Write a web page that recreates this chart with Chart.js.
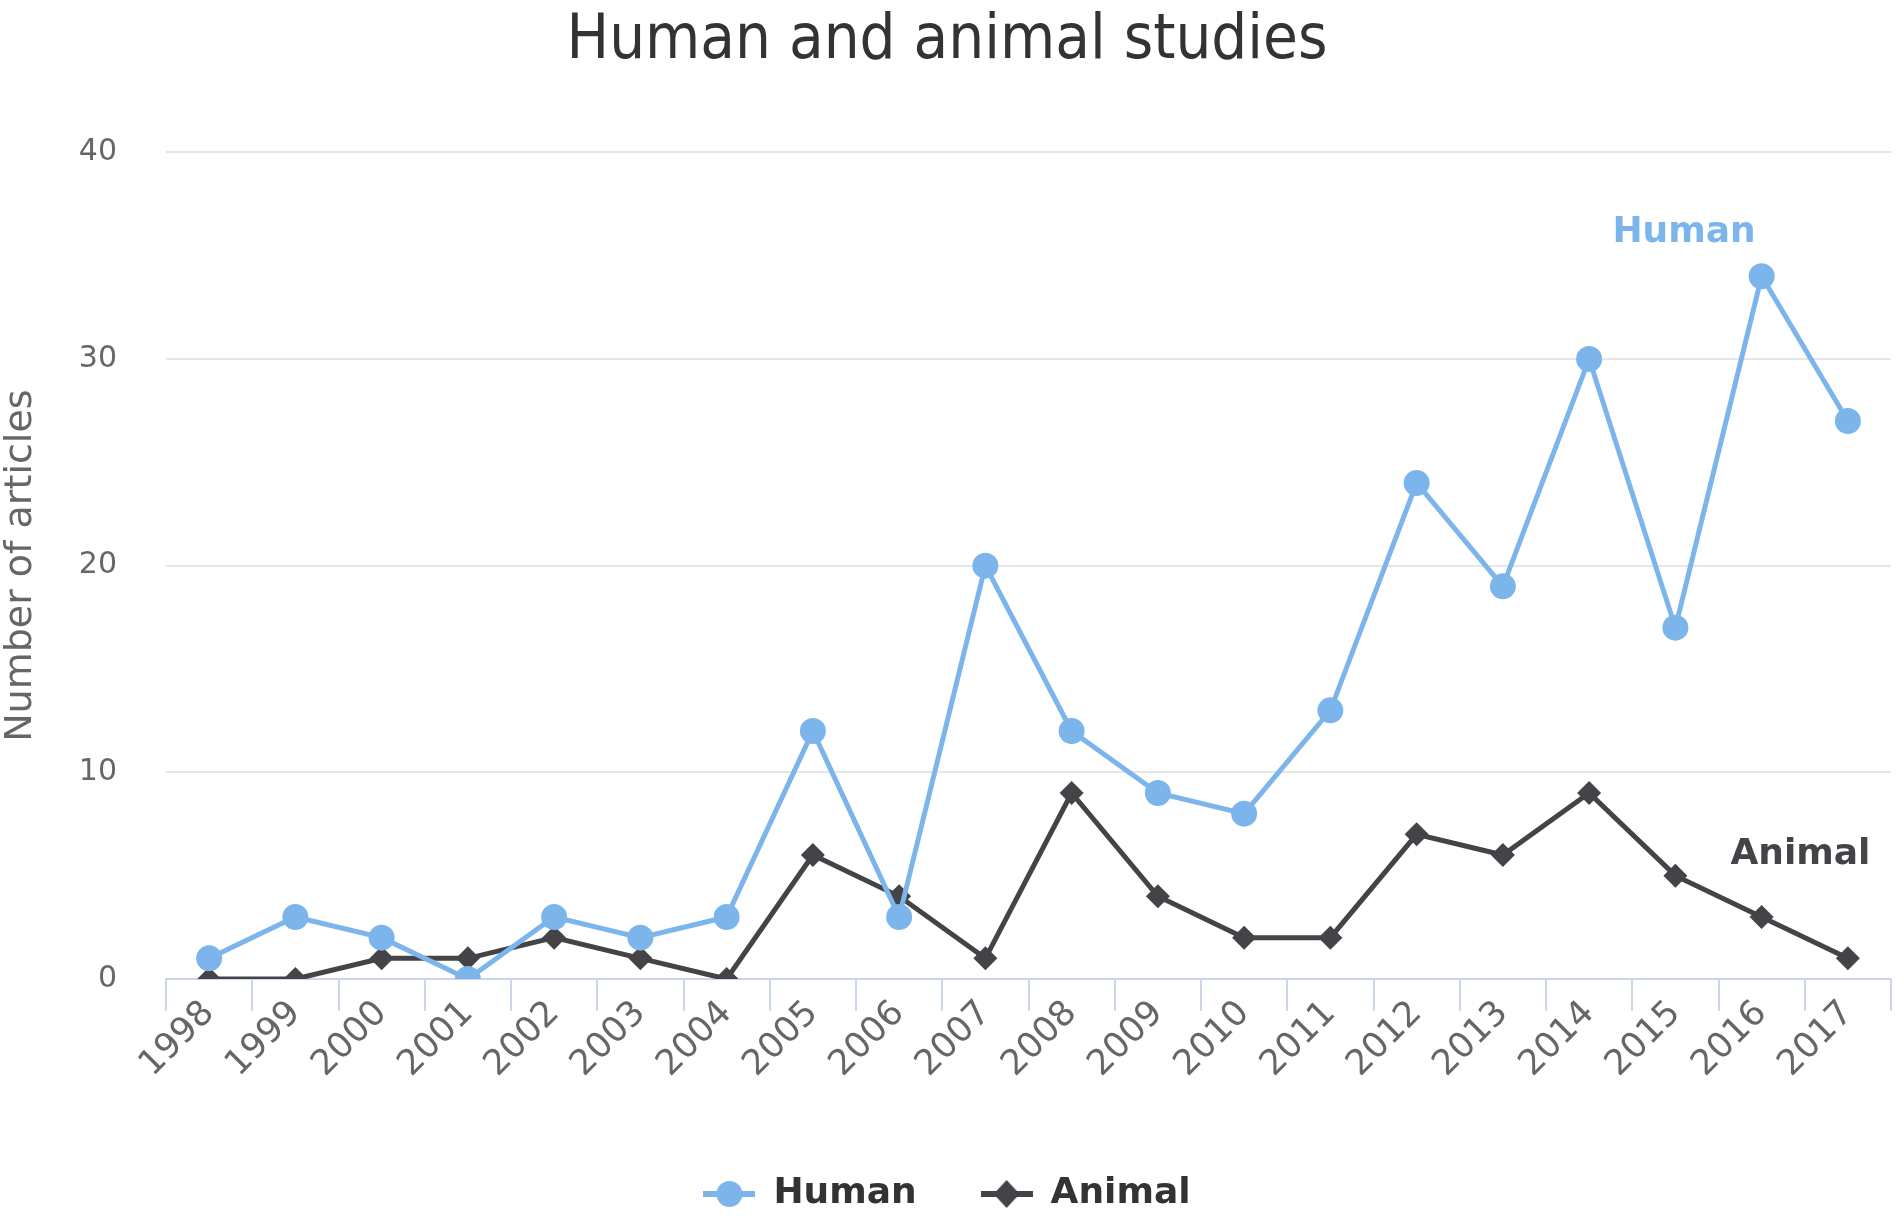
<!DOCTYPE html>
<html>
<head>
<meta charset="utf-8">
<script src="https://cdn.jsdelivr.net/npm/chart.js@4/dist/chart.umd.min.js"></script>
<style>
  html, body { margin: 0; padding: 0; background: #fff; }
  #chart { display: block; }
</style>
</head>
<body>
<canvas id="chart" width="1904" height="1218" style="width:1904px;height:1218px"></canvas>
<script>
var years = ["1998", "1999", "2000", "2001", "2002", "2003", "2004", "2005", "2006", "2007",
             "2008", "2009", "2010", "2011", "2012", "2013", "2014", "2015", "2016", "2017"];
var humanValues = [1, 3, 2, 0, 3, 2, 3, 12, 3, 20, 12, 9, 8, 13, 24, 19, 30, 17, 34, 27];
var animalValues = [0, 0, 1, 1, 2, 1, 0, 6, 4, 1, 9, 4, 2, 2, 7, 6, 9, 5, 3, 1];
var yTicks = [0, 10, 20, 30, 40];

var humanColor = "#7cb5ec";
var animalColor = "#434348";
var condensed = "'DejaVu Sans Condensed', 'Liberation Sans Narrow', sans-serif";
var plain = "'DejaVu Sans', sans-serif";

// legend symbol: short line with the marker on top
function legendSymbol(color, shape) {
    var c = document.createElement("canvas");
    c.width = 52;
    c.height = 30;
    var ctx = c.getContext("2d");
    ctx.strokeStyle = color;
    ctx.lineWidth = 6;
    ctx.beginPath();
    ctx.moveTo(0, 15);
    ctx.lineTo(52, 15);
    ctx.stroke();
    ctx.fillStyle = color;
    ctx.beginPath();
    if (shape == "circle") {
        ctx.arc(26, 15, 13, 0, Math.PI * 2);
    } else {
        ctx.moveTo(26, 1);
        ctx.lineTo(39, 15);
        ctx.lineTo(26, 29);
        ctx.lineTo(13, 15);
        ctx.closePath();
    }
    ctx.fill();
    return c;
}
var symbols = [legendSymbol(humanColor, "circle"), legendSymbol(animalColor, "diamond")];

// names written next to the lines, placed in data units
const seriesNames = {
    id: "seriesNames",
    afterDatasetsDraw(chart, args, opts) {
        const ctx = chart.ctx;
        const x = chart.scales.x, y = chart.scales.y;
        ctx.save();
        ctx.font = "bold 36px " + plain;
        ctx.textAlign = "center";
        ctx.textBaseline = "middle";
        opts.items.forEach(function (it) {
            ctx.fillStyle = it.color;
            ctx.fillText(it.text, x.getPixelForValue(it.at[0]), y.getPixelForValue(it.at[1]));
        });
        ctx.restore();
    }
};

new Chart("chart", {
    type: "line",
    data: {
        labels: years,
        datasets: [{
            label: "Human",
            data: humanValues,
            borderColor: humanColor,
            backgroundColor: humanColor,
            borderWidth: 5,
            pointStyle: "circle",
            pointRadius: 13,
            pointHoverRadius: 13,
            pointBorderWidth: 0
        }, {
            label: "Animal",
            data: animalValues,
            borderColor: animalColor,
            backgroundColor: animalColor,
            borderWidth: 5,
            pointStyle: "rectRot",
            pointRadius: 12,
            pointHoverRadius: 12,
            pointBorderWidth: 0
        }]
    },
    options: {
        responsive: false,
        devicePixelRatio: 1,
        animation: false,
        layout: { padding: { left: 0, right: 10, top: 0, bottom: -4 } },
        scales: {
            x: {
                offset: true,
                grid: {
                    offset: true,
                    drawOnChartArea: false,
                    drawTicks: true,
                    tickLength: 32,
                    color: "#ccd6eb",
                    lineWidth: 2
                },
                border: { color: "#ccd6eb", width: 2 },
                ticks: {
                    color: "#666666",
                    font: { family: plain, size: 35 },
                    minRotation: 45,
                    maxRotation: 45,
                    padding: -18,
                    autoSkip: false
                },
                afterFit(s) { s.height = 133; }
            },
            y: {
                min: 0,
                max: 40,
                afterBuildTicks(s) { s.ticks = yTicks.map(v => ({ value: v })); },
                grid: { color: "#e6e6e6", lineWidth: 2, drawTicks: false },
                border: { display: false },
                ticks: {
                    color: "#666666",
                    font: { family: plain, size: 30 },
                    padding: 49
                },
                title: {
                    display: true,
                    text: "Number of articles",
                    color: "#666666",
                    font: { family: plain, size: 38, lineHeight: 1 },
                    padding: { top: 2, bottom: 0 }
                },
                afterFit(s) { s.width = 166; }
            }
        },
        plugins: {
            title: {
                display: true,
                text: "Human and animal studies",
                color: "#333333",
                font: { family: condensed, size: 63, weight: "normal", lineHeight: 1.1 },
                padding: { top: 7, bottom: 76 }
            },
            legend: {
                position: "bottom",
                labels: {
                    usePointStyle: true,
                    pointStyleWidth: 52,
                    padding: 64,
                    color: "#333333",
                    font: { family: plain, size: 36, weight: "bold" },
                    generateLabels(chart) {
                        const items = Chart.defaults.plugins.legend.labels.generateLabels(chart);
                        items.forEach((it, i) => { it.pointStyle = symbols[i]; });
                        return items;
                    }
                }
            },
            tooltip: { enabled: false },
            seriesNames: {
                items: [
                    { text: "Human", color: humanColor, at: [17.1, 36.1] },
                    { text: "Animal", color: animalColor, at: [18.45, 6.0] }
                ]
            }
        }
    },
    plugins: [seriesNames]
});
</script>
</body>
</html>
